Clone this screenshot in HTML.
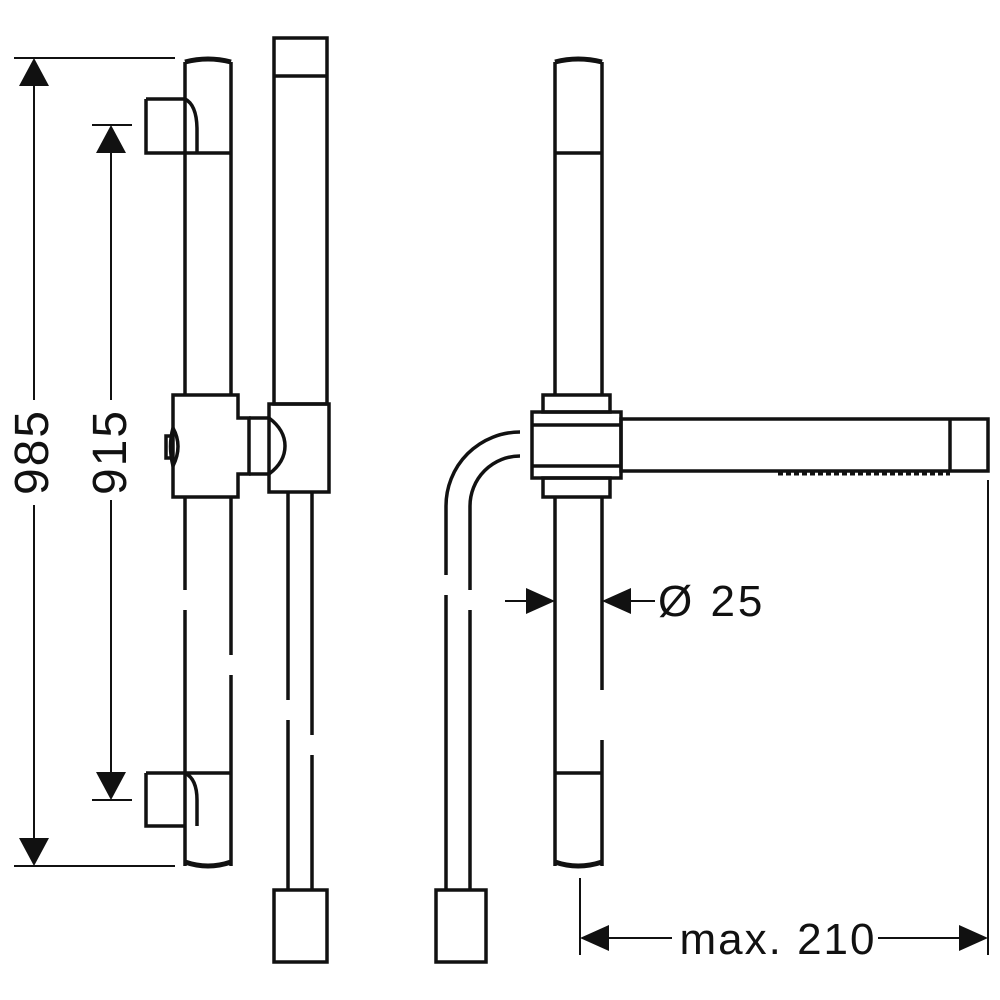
<!DOCTYPE html>
<html><head><meta charset="utf-8"><style>html,body{margin:0;padding:0;background:#fff}svg{display:block}</style></head>
<body>
<svg width="1000" height="1000" viewBox="0 0 1000 1000" xmlns="http://www.w3.org/2000/svg">
<g fill="none" stroke="#111" stroke-width="3.5" stroke-linejoin="miter">
<!-- left bar -->
<path d="M185 62 Q208 56 231 62" stroke-width="5"/>
<line x1="185" y1="62" x2="185" y2="395"/><line x1="231" y1="62" x2="231" y2="395"/>
<line x1="185" y1="497" x2="185" y2="590"/><line x1="185" y1="610" x2="185" y2="866"/>
<line x1="231" y1="497" x2="231" y2="655"/><line x1="231" y1="675" x2="231" y2="866"/>
<path d="M185 862 Q208 870 231 862" stroke-width="5"/>
<path d="M146 99 H185 Q197 105 197 130 V153 M146 99 V153 H231"/>
<path d="M146 773 H185 Q197 779 197 800 V826 M146 773 V826 H185 M185 773 H231"/>
<!-- slider -->
<path d="M173 395 H238 V418 H249 V474 H238 V497 H173 Z"/>
<path d="M173 428 Q168 446 173 466 Q183 446 173 428"/>
<rect x="166" y="436" width="6" height="22"/>
<path d="M249 418 H269 Q285 430 285 446 Q285 462 269 474 H249"/>
<rect x="269" y="404" width="60" height="88"/>
<!-- handshower -->
<rect x="274" y="38" width="53" height="366"/>
<line x1="274" y1="76" x2="327" y2="76"/>
<line x1="327" y1="80" x2="327" y2="215" stroke-dasharray="3 3" stroke-width="3"/>
<line x1="288" y1="492" x2="288" y2="700"/><line x1="288" y1="720" x2="288" y2="890"/>
<line x1="312" y1="492" x2="312" y2="735"/><line x1="312" y1="755" x2="312" y2="890"/>
<rect x="274" y="890" width="53" height="72"/>
<!-- right bar -->
<path d="M555 62 Q578 56 602 62" stroke-width="5"/>
<line x1="555" y1="62" x2="555" y2="395"/><line x1="602" y1="62" x2="602" y2="395"/>
<line x1="555" y1="153" x2="602" y2="153"/>
<line x1="555" y1="497" x2="555" y2="866"/>
<line x1="602" y1="497" x2="602" y2="690"/><line x1="602" y1="740" x2="602" y2="866"/>
<line x1="555" y1="773" x2="602" y2="773"/>
<path d="M555 862 Q578 870 602 862" stroke-width="5"/>
<rect x="543" y="395" width="67" height="17"/>
<rect x="532" y="412" width="89" height="66"/>
<line x1="532" y1="425" x2="621" y2="425"/><line x1="532" y1="466" x2="621" y2="466"/>
<rect x="543" y="478" width="67" height="19"/>
<rect x="621" y="419" width="367" height="52"/>
<line x1="950" y1="419" x2="950" y2="471"/>
<line x1="778" y1="474" x2="950" y2="474" stroke-dasharray="5 3" stroke-width="3"/>
<!-- hose -->
<path d="M520 432 A74 74 0 0 0 446 506 V575 M446 595 V890"/>
<path d="M520 456 A50 50 0 0 0 470 506 V590 M470 610 V890"/>
<rect x="436" y="890" width="50" height="72"/>
</g>
<g stroke="#111" stroke-width="2">
<line x1="14" y1="58" x2="175" y2="58"/><line x1="14" y1="866" x2="175" y2="866"/>
<line x1="34" y1="80" x2="34" y2="400"/><line x1="34" y1="505" x2="34" y2="845"/>
<line x1="92" y1="125" x2="132" y2="125"/><line x1="92" y1="800" x2="132" y2="800"/>
<line x1="111" y1="145" x2="111" y2="400"/><line x1="111" y1="500" x2="111" y2="780"/>
<line x1="505" y1="601" x2="540" y2="601"/><line x1="615" y1="601" x2="655" y2="601"/>
<line x1="580" y1="878" x2="580" y2="955"/><line x1="988" y1="480" x2="988" y2="955"/>
<line x1="600" y1="938" x2="672" y2="938"/><line x1="878" y1="938" x2="970" y2="938"/>
</g>
<g fill="#111">
<polygon points="34,58 19,86 49,86"/><polygon points="34,866 19,838 49,838"/>
<polygon points="111,125 96,153 126,153"/><polygon points="111,800 96,772 126,772"/>
<polygon points="555,601 526,588 526,614"/><polygon points="602,601 631,588 631,614"/>
<polygon points="580,938 609,925 609,951"/><polygon points="988,938 959,925 959,951"/>
</g>
<g font-family="'Liberation Sans', 'DejaVu Sans', sans-serif" fill="#111">
<text transform="translate(48 452) rotate(-90)" text-anchor="middle" font-size="48" letter-spacing="2">985</text>
<text transform="translate(126 452) rotate(-90)" text-anchor="middle" font-size="48" letter-spacing="2">915</text>
<text x="658" y="616" font-size="44" letter-spacing="3">Ø 25</text>
<text x="778" y="954" font-size="44" letter-spacing="2" text-anchor="middle">max. 210</text>
</g>
</svg>
</body></html>
